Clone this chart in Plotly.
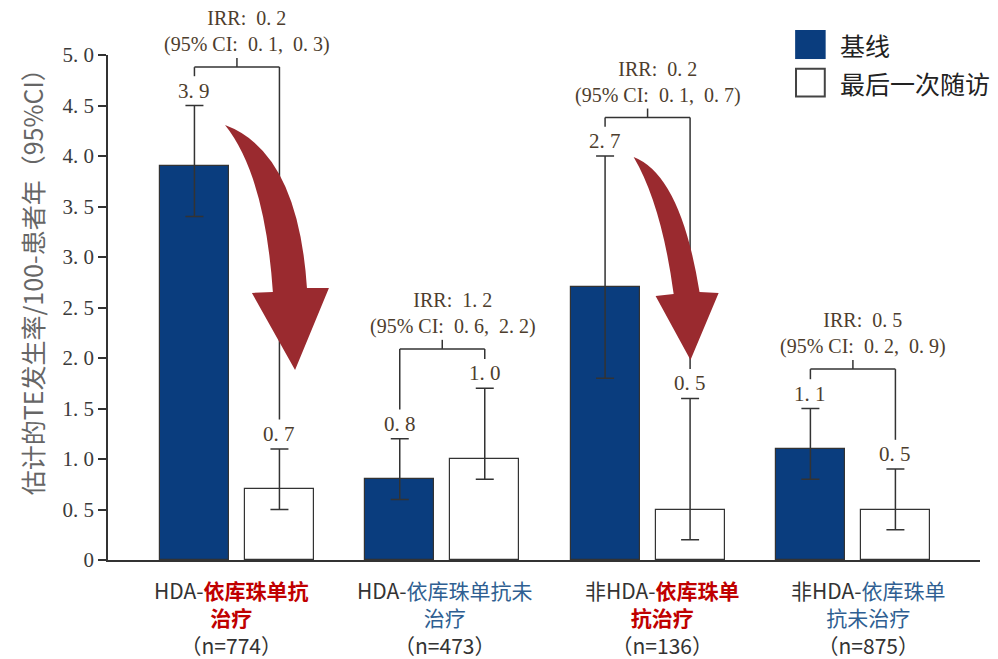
import plotly.graph_objects as go

# ---- data -------------------------------------------------------------
group_pos = [0, 1, 2, 3]
group_prefix = ["HDA-", "HDA-", "非HDA-", "非HDA-"]
group_line1 = ["依库珠单抗", "依库珠单抗未", "依库珠单", "依库珠单"]
group_line2 = ["治疗", "治疗", "抗治疗", "抗未治疗"]
group_treated = [True, False, True, False]
group_n = [774, 473, 136, 875]

baseline = [3.9, 0.8, 2.7, 1.1]
baseline_lo = [3.4, 0.6, 1.8, 0.8]
baseline_hi = [4.5, 1.2, 4.0, 1.5]

last_visit = [0.7, 1.0, 0.5, 0.5]
last_lo = [0.5, 0.8, 0.2, 0.3]
last_hi = [1.1, 1.7, 1.6, 0.9]

irr = [0.2, 1.2, 0.2, 0.5]
irr_lo = [0.1, 0.6, 0.1, 0.2]
irr_hi = [0.3, 2.2, 0.7, 0.9]

y_tickvals = [0, 0.5, 1.0, 1.5, 2.0, 2.5, 3.0, 3.5, 4.0, 4.5, 5.0]
y_ticktext = ["0", "0. 5", "1. 0", "1. 5", "2. 0", "2. 5", "3. 0", "3. 5", "4. 0", "4. 5", "5. 0"]

legend_labels = ["基线", "最后一次随访"]
y_title = "估计的TE发生率/100-患者年（95%CI）"

# ---- styling ------------------------------------------------------------
BLUE = "#0a3d7e"
EDGE = "#333333"
SERIF_TXT = "#4d3d2d"
RED_TXT = "#c00000"
BLUE_TXT = "#2f5f92"
ARROW = "#9a2a2f"
SERIF = "Liberation Serif, Times New Roman, serif"
SANS = "Noto Sans CJK SC, Noto Sans, sans-serif"

BAR_W = 0.336
OFF_BASE = -0.375
OFF_LAST = 0.039
bracket_top = [4.88, 2.09, 4.38, 1.89]
label_shift = [-0.025, 0.015, 0.075, 0.075]

base_c = [g + OFF_BASE + BAR_W / 2 for g in group_pos]
last_c = [g + OFF_LAST + BAR_W / 2 for g in group_pos]


def fmt(v):
    return f"{v:.1f}".replace(".", ". ")


fig = go.Figure()

fig.add_trace(go.Bar(
    x=group_pos, y=baseline, width=BAR_W, offset=OFF_BASE,
    marker=dict(color=BLUE, line=dict(color=EDGE, width=1.2)),
    error_y=dict(type="data", symmetric=False,
                 array=[h - v for h, v in zip(baseline_hi, baseline)],
                 arrayminus=[v - l for v, l in zip(baseline, baseline_lo)],
                 color=EDGE, thickness=1.5, width=9),
    name=legend_labels[0], showlegend=False, hoverinfo="skip",
))
fig.add_trace(go.Bar(
    x=group_pos, y=last_visit, width=BAR_W, offset=OFF_LAST,
    marker=dict(color="white", line=dict(color=EDGE, width=1.2)),
    error_y=dict(type="data", symmetric=False,
                 array=[h - v for h, v in zip(last_hi, last_visit)],
                 arrayminus=[v - l for v, l in zip(last_visit, last_lo)],
                 color=EDGE, thickness=1.5, width=9),
    name=legend_labels[1], showlegend=False, hoverinfo="skip",
))

shapes = []
annotations = []

# value labels above the error bars
for xs, vals, his in ((base_c, baseline, baseline_hi), (last_c, last_visit, last_hi)):
    for x, v, h in zip(xs, vals, his):
        annotations.append(dict(x=x, y=h, text=fmt(v), showarrow=False,
                                yanchor="middle", yshift=15,
                                font=dict(family=SERIF, size=21, color=SERIF_TXT)))

# IRR brackets
line_style = dict(color=EDGE, width=1.5)
for i, g in enumerate(group_pos):
    top = bracket_top[i]
    shapes += [
        dict(type="line", x0=base_c[i], x1=last_c[i], y0=top, y1=top, line=line_style),
        dict(type="line", x0=base_c[i], x1=base_c[i], y0=top, y1=baseline_hi[i] + 0.29, line=line_style),
        dict(type="line", x0=last_c[i], x1=last_c[i], y0=top, y1=last_hi[i] + 0.29, line=line_style),
        dict(type="line", x0=g, x1=g, y0=top, y1=top + 0.09, line=line_style),
    ]
    irr_text = (f"IRR:  {fmt(irr[i])}<br>"
                f"(95% CI:  {fmt(irr_lo[i])},  {fmt(irr_hi[i])})")
    annotations.append(dict(x=g + 0.05, y=top, text=irr_text, showarrow=False,
                            align="center", yanchor="bottom", yshift=10, borderpad=0,
                            font=dict(family=SERIF, size=20, color=SERIF_TXT)))


# curved arrows showing the drop from baseline to last visit
def swoosh(g, tail, outer_c, outer_end, head_r, tip, head_l, inner_end, inner_c):
    pts = [tail, outer_c, outer_end, head_r, tip, head_l, inner_end, inner_c]
    p = [(g + x, y) for x, y in pts]
    return (f"M {p[0][0]},{p[0][1]} Q {p[1][0]},{p[1][1]} {p[2][0]},{p[2][1]} "
            f"L {p[3][0]},{p[3][1]} L {p[4][0]},{p[4][1]} L {p[5][0]},{p[5][1]} "
            f"L {p[6][0]},{p[6][1]} Q {p[7][0]},{p[7][1]} {p[0][0]},{p[0][1]} Z")


arrow_defs = [
    (0, (-0.058, 4.307), (0.297, 4.040), (0.341, 2.693), (0.448, 2.693),
     (0.283, 1.881), (0.073, 2.644), (0.175, 2.653), (0.136, 3.812)),
    (2, (-0.068, 3.990), (0.161, 3.812), (0.253, 2.653), (0.346, 2.644),
     (0.209, 1.980), (0.039, 2.614), (0.127, 2.634), (0.068, 3.520)),
]
for a in arrow_defs:
    shapes.append(dict(type="path", path=swoosh(*a), fillcolor=ARROW,
                       line=dict(width=0), layer="above"))

# category labels (three lines each)
for i, g in enumerate(group_pos):
    col = RED_TXT if group_treated[i] else BLUE_TXT
    if group_treated[i]:
        l1 = f"{group_prefix[i]}<span style='color:{col}'><b>{group_line1[i]}</b></span>"
        l2 = f"<span style='color:{col}'><b>{group_line2[i]}</b></span>"
    else:
        l1 = f"{group_prefix[i]}<span style='color:{col}'>{group_line1[i]}</span>"
        l2 = f"<span style='color:{col}'>{group_line2[i]}</span>"
    l3 = f"（n={group_n[i]}）"
    annotations.append(dict(x=g + label_shift[i], y=-0.1129, yref="paper",
                            text="<br>".join([l1, l2, l3]), align="center",
                            showarrow=False, yanchor="middle", borderpad=0,
                            font=dict(family=SANS, size=21, color="#333333")))

# legend
shapes.append(dict(type="rect", xref="paper", yref="paper", x0=0.788, x1=0.823,
                   y0=0.992, y1=1.0495, fillcolor=BLUE, line=dict(width=0)))
shapes.append(dict(type="rect", xref="paper", yref="paper", x0=0.789, x1=0.822,
                   y0=0.918, y1=0.973, fillcolor="white", line=dict(color="#444444", width=2)))
for txt, yp in zip(legend_labels, (1.0198, 0.9446)):
    annotations.append(dict(x=0.837, y=yp, xref="paper", yref="paper", text=txt,
                            showarrow=False, xanchor="left", yanchor="middle",
                            font=dict(family=SANS, size=25, color="#222222")))

# y-axis title
annotations.append(dict(x=-0.0872, y=0.564, xref="paper", yref="paper", text=y_title,
                        textangle=-90, showarrow=False, xanchor="center", yanchor="middle",
                        font=dict(family=SANS, size=25, color="#666666")))

fig.update_layout(
    width=998, height=659,
    margin=dict(l=108, r=18, t=55, b=99),
    plot_bgcolor="white", paper_bgcolor="white",
    shapes=shapes, annotations=annotations,
    xaxis=dict(range=[-0.628, 3.619], showgrid=False, zeroline=False,
               showticklabels=False, ticks="", showline=True,
               linecolor=EDGE, linewidth=1.5),
    yaxis=dict(range=[0, 5], showgrid=False, zeroline=False,
               tickvals=y_tickvals, ticktext=y_ticktext,
               ticks="outside", ticklen=8, tickcolor=EDGE, tickwidth=1.5,
               showline=True, linecolor=EDGE, linewidth=1.5,
               tickfont=dict(family=SERIF, size=21, color="#3a3a3a")),
    bargap=0,
)

fig.write_html("out.html")
